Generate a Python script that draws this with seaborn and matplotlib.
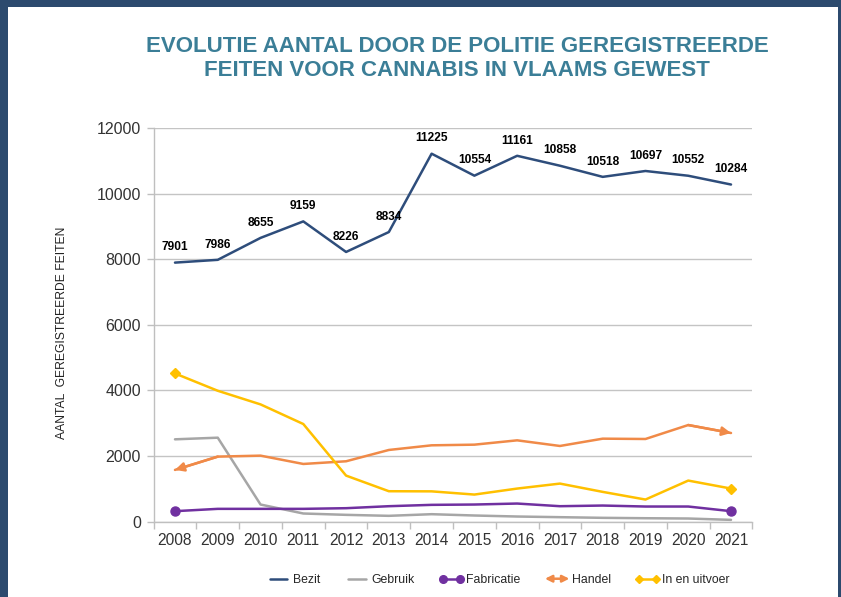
import numpy as np
import pandas as pd
import seaborn as sns
import matplotlib.pyplot as plt
from matplotlib.lines import Line2D
from matplotlib.patches import Rectangle, FancyArrowPatch
from matplotlib.legend_handler import HandlerBase

# data
years = list(range(2008, 2022))
bezit = [7901, 7986, 8655, 9159, 8226, 8834, 11225, 10554, 11161, 10858, 10518, 10697, 10552, 10284]
gebruik = [2508, 2558, 518, 244, 203, 173, 223, 183, 152, 132, 112, 100, 91, 50]
fabricatie = [315, 386, 386, 386, 406, 467, 508, 518, 548, 467, 487, 457, 457, 315]
handel = [1574, 1980, 2010, 1756, 1838, 2183, 2325, 2345, 2477, 2305, 2528, 2518, 2944, 2701]
in_uitvoer = [4518, 3990, 3574, 2975, 1401, 924, 920, 822, 1005, 1157, 904, 670, 1249, 1005]

series = ['Bezit', 'Gebruik', 'Fabricatie', 'Handel', 'In en uitvoer']
kleuren = ['#2E4D7B', '#A6A6A6', '#7030A0', '#F08A48', '#FFC000']

df = pd.DataFrame({'jaar': years, 'Bezit': bezit, 'Gebruik': gebruik, 'Fabricatie': fabricatie,
                   'Handel': handel, 'In en uitvoer': in_uitvoer})
long = df.melt(id_vars='jaar', var_name='soort', value_name='aantal')

sns.set_theme(style='white')
plt.rcParams['font.family'] = ['Liberation Sans', 'DejaVu Sans']

fig = plt.figure(figsize=(8.41, 5.97), dpi=100, facecolor='#2C4A6E')
fig.add_artist(Rectangle((8 / 841, 0), 830 / 841, 1 - 7 / 597, transform=fig.transFigure,
                         facecolor='white', edgecolor='none', zorder=-1))

ax = fig.add_axes([153.6 / 841, 75.5 / 597, 598.8 / 841, 393.2 / 597])
ax.set_facecolor('none')

sns.lineplot(data=long, x='jaar', y='aantal', hue='soort', hue_order=series,
             palette=dict(zip(series, kleuren)), linewidth=1.8, legend=False, ax=ax)

# eindpunten met markers
ax.plot([years[0], years[-1]], [fabricatie[0], fabricatie[-1]], 'o', color=kleuren[2], ms=6.5, zorder=5)
ax.plot([years[0], years[-1]], [in_uitvoer[0], in_uitvoer[-1]], 'D', color=kleuren[4], ms=5, zorder=5)
for (x0, y0), (x1, y1) in [((years[1], handel[1]), (years[0], handel[0])),
                           ((years[-2], handel[-2]), (years[-1], handel[-1]))]:
    ax.annotate('', xy=(x1, y1), xytext=(x0, y0),
                arrowprops=dict(arrowstyle='-|>', color=kleuren[3], lw=1.8, mutation_scale=13,
                                shrinkA=0, shrinkB=0))

# labels bij Bezit
for j, v in zip(years, bezit):
    ax.annotate(str(v), (j, v), xytext=(0, 11), textcoords='offset points', ha='center', va='center',
                fontsize=8.6, fontweight='bold', color='black')

ax.set_xlim(2007.5, 2021.5)
ax.set_ylim(0, 12000)
ax.set_yticks(range(0, 12001, 2000))
ax.set_xticks(years)
ax.set_xticks(np.arange(2007.5, 2022, 1), minor=True)
ax.tick_params(axis='x', which='major', length=0, pad=8, labelsize=11.2, labelcolor='#333333')
ax.tick_params(axis='x', which='minor', length=5, color='#BFBFBF', width=1, direction='out', bottom=True)
ax.tick_params(axis='y', length=5, color='#BFBFBF', width=1, direction='out', left=True, pad=4,
               labelsize=11.5, labelcolor='#333333')
ax.grid(axis='y', color='#C4C4C4', lw=1)
ax.set_axisbelow(True)
for s in ['top', 'right']:
    ax.spines[s].set_visible(False)
for s in ['left', 'bottom']:
    ax.spines[s].set_color('#BFBFBF')
    ax.spines[s].set_linewidth(1)

ax.set_xlabel('')
ax.set_ylabel('AANTAL  GEREGISTREERDE FEITEN', fontsize=8.7, color='#222222')
ax.yaxis.set_label_coords(-0.143, 0.479)

fig.text(457 / 841, 1 - 58.5 / 597,
         'EVOLUTIE AANTAL DOOR DE POLITIE GEREGISTREERDE\nFEITEN VOOR CANNABIS IN VLAAMS GEWEST',
         ha='center', va='center', fontsize=16, fontweight='bold', color='#3B7E97', linespacing=1.18)


class DubbelePijl(HandlerBase):
    def create_artists(self, legend, orig_handle, xdescent, ydescent, width, height, fontsize, trans):
        y = height / 2 - ydescent
        p = FancyArrowPatch((-xdescent, y), (-xdescent + width, y), arrowstyle='<|-|>', mutation_scale=10,
                            color=orig_handle.get_color(), lw=orig_handle.get_linewidth(),
                            shrinkA=0, shrinkB=0, transform=trans)
        return [p]


handles = [Line2D([], [], color=kleuren[0], lw=1.8),
           Line2D([], [], color=kleuren[1], lw=1.8),
           Line2D([], [], color=kleuren[2], lw=1.8, marker='o', ms=5.5),
           Line2D([], [], color=kleuren[3], lw=1.8),
           Line2D([], [], color=kleuren[4], lw=1.8, marker='D', ms=4.5)]
fig.legend(handles, series, loc='center', bbox_to_anchor=(498 / 841, 1 - 580 / 597), ncol=5,
           frameon=False, fontsize=8.8, numpoints=2, handlelength=2.0, handletextpad=0.2,
           columnspacing=2.0, handler_map={handles[3]: DubbelePijl()})

fig.savefig('out.png', dpi=100, facecolor=fig.get_facecolor())
